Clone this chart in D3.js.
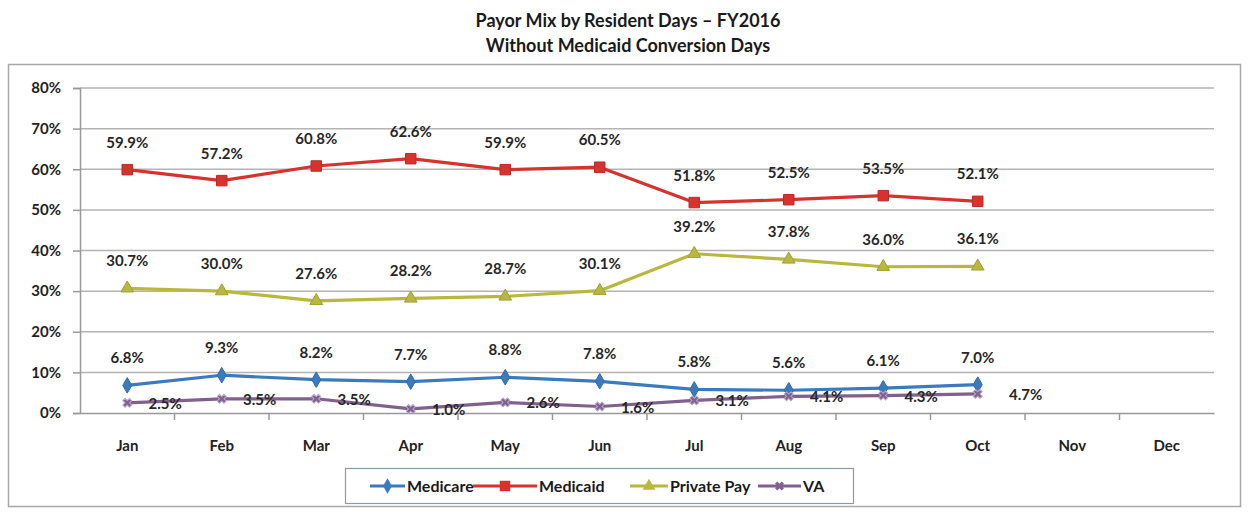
<!DOCTYPE html>
<html>
<head>
<meta charset="utf-8">
<script src="https://cdn.jsdelivr.net/npm/d3@7"></script>
<style>
  html, body { margin: 0; padding: 0; background: #fff; }
  svg { display: block; }
  text { font-family: Lato, "Open Sans", Arial, sans-serif; }
</style>
</head>
<body>
<svg id="chart" width="1249" height="513"></svg>
<script>
// Payor mix by resident days, FY2016 (Jan–Oct reported)
const months = ["Jan", "Feb", "Mar", "Apr", "May", "Jun", "Jul", "Aug", "Sep", "Oct", "Nov", "Dec"];
const medicare   = [6.8, 9.3, 8.2, 7.7, 8.8, 7.8, 5.8, 5.6, 6.1, 7.0];
const medicaid   = [59.9, 57.2, 60.8, 62.6, 59.9, 60.5, 51.8, 52.5, 53.5, 52.1];
const privatePay = [30.7, 30.0, 27.6, 28.2, 28.7, 30.1, 39.2, 37.8, 36.0, 36.1];
const va         = [2.5, 3.5, 3.5, 1.0, 2.6, 1.6, 3.1, 4.1, 4.3, 4.7];
const yTicks = [0, 10, 20, 30, 40, 50, 60, 70, 80];

const series = [
  { name: "Medicare",    values: medicare,   color: "#3a7bbf", symbol: d3.symbolDiamond,  size: 70,  labelPos: "above" },
  { name: "Medicaid",    values: medicaid,   color: "#d6332f", symbol: d3.symbolSquare,   size: 110, labelPos: "above" },
  { name: "Private Pay", values: privatePay, color: "#b9b83e", symbol: d3.symbolTriangle, size: 70,  labelPos: "above" },
  { name: "VA",          values: va,         color: "#80608f", symbol: d3.symbolCross,    size: 50,  labelPos: "right" }
];

const svg = d3.select("#chart");
const plot = { left: 80, right: 1214, top: 88, bottom: 413 };

// Outer chart frame
svg.append("rect")
  .attr("x", 8.5).attr("y", 64.5)
  .attr("width", 1232).attr("height", 442)
  .attr("fill", "none").attr("stroke", "#a8a8a8").attr("stroke-width", 1.5);

// Title
const title = svg.append("text")
  .attr("x", 628).attr("text-anchor", "middle")
  .attr("font-family", "Arial, 'Liberation Sans', sans-serif")
  .attr("font-weight", "bold").attr("font-size", 18).attr("fill", "#1a1a1a");
title.append("tspan").attr("x", 628).attr("y", 27).text("Payor Mix by Resident Days – FY2016");
title.append("tspan").attr("x", 628).attr("y", 52).text("Without Medicaid Conversion Days");

const x = d3.scaleBand().domain(months).range([plot.left, plot.right]);
const y = d3.scaleLinear().domain([0, 80]).range([plot.bottom, plot.top]);
const cx = i => x(months[i]) + x.bandwidth() / 2;

// Horizontal gridlines
svg.append("g")
  .selectAll("line")
  .data(yTicks.filter(t => t > 0))
  .join("line")
  .attr("x1", plot.left).attr("x2", plot.right)
  .attr("y1", d => y(d)).attr("y2", d => y(d))
  .attr("stroke", "#b4b4b4").attr("stroke-width", 1.5);

// Y axis
const yAxis = svg.append("g")
  .attr("transform", `translate(${plot.left},0)`)
  .call(d3.axisLeft(y).tickValues(yTicks).tickFormat(d => d + "%").tickSize(7).tickPadding(12));
yAxis.select(".domain").attr("stroke", "#999").attr("stroke-width", 1.5);
yAxis.selectAll(".tick line").attr("stroke", "#999").attr("stroke-width", 1.5);
yAxis.selectAll("text")
  .attr("font-family", "Lato, sans-serif")
  .attr("font-size", 15).attr("font-weight", "bold").attr("fill", "#222");

// X axis with ticks between categories
const xAxis = svg.append("g")
  .attr("transform", `translate(0,${plot.bottom})`)
  .call(d3.axisBottom(x).tickSize(0).tickPadding(27));
xAxis.select(".domain").attr("stroke", "#999").attr("stroke-width", 1.5);
xAxis.selectAll("text")
  .attr("font-family", "Lato, sans-serif")
  .attr("font-size", 15).attr("font-weight", "bold").attr("fill", "#222");
xAxis.append("g").selectAll("line")
  .data(months.slice(1))
  .join("line")
  .attr("x1", d => x(d)).attr("x2", d => x(d))
  .attr("y1", 0).attr("y2", 7)
  .attr("stroke", "#999").attr("stroke-width", 1.5);

// Lines, markers and value labels
const line = d3.line().x((d, i) => cx(i)).y(d => y(d));

series.forEach(s => {
  const g = svg.append("g");
  g.append("path")
    .datum(s.values)
    .attr("d", line)
    .attr("fill", "none")
    .attr("stroke", s.color)
    .attr("stroke-width", 3.2)
    .attr("stroke-linejoin", "round");

  g.selectAll(".marker")
    .data(s.values)
    .join("path")
    .attr("class", "marker")
    .attr("d", d3.symbol().type(s.symbol).size(s.size))
    .attr("transform", (d, i) => `translate(${cx(i)},${y(d)})` + (s.symbol === d3.symbolCross ? " rotate(45)" : ""))
    .attr("fill", s.color)
    .attr("stroke", s.symbol === d3.symbolCross ? "#b9a8c8" : d3.color(s.color).darker(0.4))
    .attr("stroke-width", 1);

  g.selectAll(".label")
    .data(s.values)
    .join("text")
    .attr("class", "label")
    .attr("x", (d, i) => s.labelPos === "right" ? cx(i) + (i === 9 ? 48 : 38) : cx(i))
    .attr("y", d => s.labelPos === "right" ? y(d) + 6 : y(d) - 22)
    .attr("text-anchor", "middle")
    .attr("font-size", 15).attr("font-weight", "bold")
    .attr("fill", "#262626")
    .text(d => d.toFixed(1) + "%");
});

// Legend
const legend = svg.append("g");
legend.append("rect")
  .attr("x", 345.5).attr("y", 468.5).attr("width", 508).attr("height", 35)
  .attr("fill", "#fff").attr("stroke", "#8a9bb0").attr("stroke-width", 1.2);
const legendItems = [
  { s: series[0], x1: 370, x2: 405 },
  { s: series[1], x1: 473, x2: 537 },
  { s: series[2], x1: 630, x2: 668 },
  { s: series[3], x1: 758, x2: 801 }
];
legendItems.forEach(it => {
  const ly = 486;
  legend.append("line")
    .attr("x1", it.x1).attr("x2", it.x2).attr("y1", ly).attr("y2", ly)
    .attr("stroke", it.s.color).attr("stroke-width", 3);
  legend.append("path")
    .attr("d", d3.symbol().type(it.s.symbol).size(it.s.size))
    .attr("transform", `translate(${(it.x1 + it.x2) / 2},${ly})` + (it.s.symbol === d3.symbolCross ? " rotate(45)" : ""))
    .attr("fill", it.s.color);
  legend.append("text")
    .attr("x", it.x2 + 2).attr("y", ly + 6)
    .attr("font-size", 16).attr("font-weight", "bold").attr("fill", "#1a1a1a")
    .text(it.s.name);
});
</script>
</body>
</html>
